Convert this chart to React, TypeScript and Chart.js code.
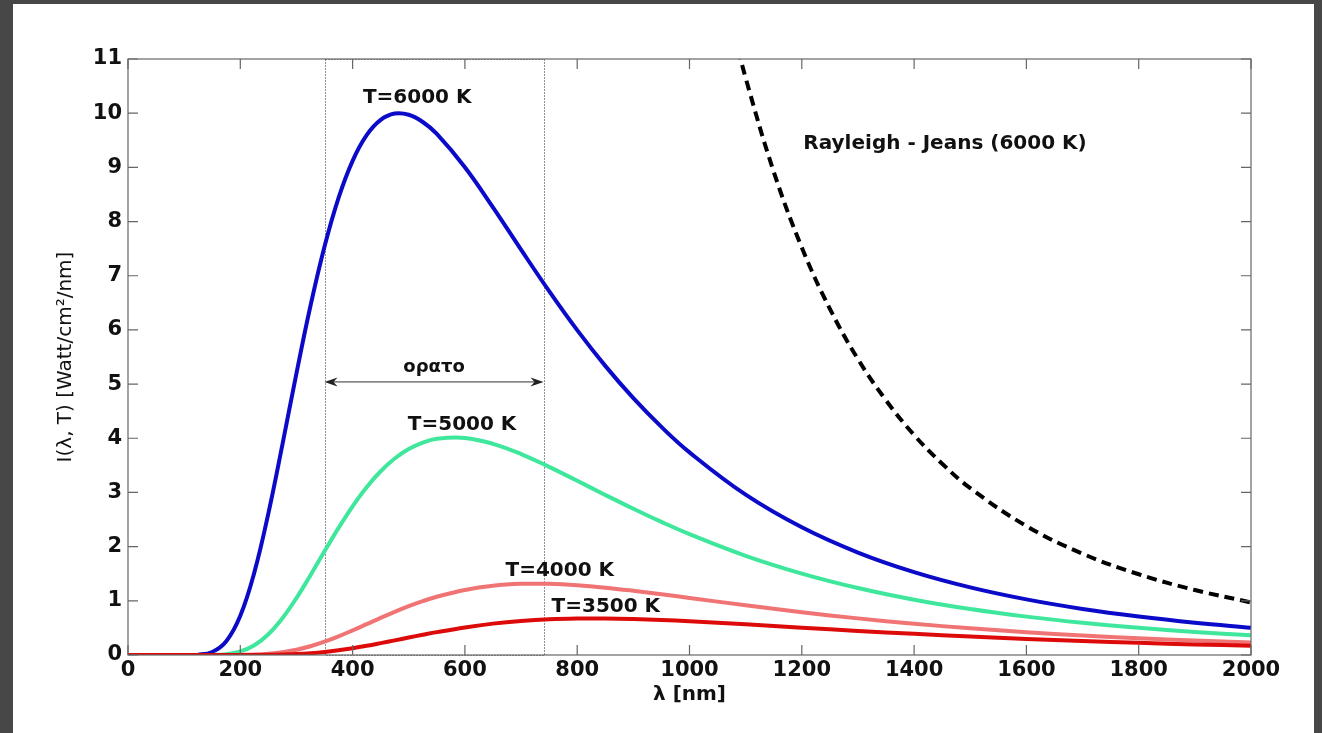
import { useEffect, useRef } from "react";
import { Chart, registerables } from "chart.js";

Chart.register(...registerables);

// wavelengths in nm (shared by the four Planck curves)
const wavelengths = [
  0, 50, 100, 125, 150, 175, 200, 225, 250, 275, 300, 325, 350, 375, 400, 425,
  450, 475, 500, 525, 550, 600, 650, 700, 750, 800, 850, 900, 950, 1000, 1100,
  1200, 1300, 1400, 1500, 1600, 1700, 1800, 1900, 2000,
];

const t6000 = [
  0, 0, 0.0001, 0.006, 0.056, 0.255, 0.725, 1.525, 2.615, 3.883, 5.199, 6.446,
  7.541, 8.438, 9.121, 9.594, 9.876, 9.993, 9.971, 9.837, 9.618, 9.003, 8.262,
  7.481, 6.716, 5.996, 5.336, 4.74, 4.21, 3.74, 2.959, 2.357, 1.891, 1.53,
  1.248, 1.026, 0.85, 0.71, 0.596, 0.504,
];

const t5000 = [
  0, 0, 0, 0, 0.002, 0.016, 0.066, 0.181, 0.384, 0.679, 1.051, 1.473, 1.914,
  2.346, 2.745, 3.097, 3.391, 3.626, 3.801, 3.921, 3.992, 4.007, 3.898, 3.709,
  3.473, 3.216, 2.954, 2.699, 2.456, 2.23, 1.831, 1.503, 1.236, 1.021, 0.848,
  0.708, 0.594, 0.502, 0.426, 0.363,
];

const t4000 = [
  0, 0, 0, 0, 0, 0, 0.002, 0.007, 0.022, 0.05, 0.096, 0.161, 0.245, 0.344,
  0.454, 0.569, 0.685, 0.796, 0.9, 0.993, 1.075, 1.201, 1.279, 1.313, 1.313,
  1.287, 1.243, 1.186, 1.122, 1.054, 0.917, 0.79, 0.676, 0.577, 0.493, 0.421,
  0.361, 0.31, 0.268, 0.232,
];

const t3500 = [
  0, 0, 0, 0, 0, 0, 0, 0.001, 0.003, 0.008, 0.017, 0.033, 0.056, 0.088, 0.126,
  0.17, 0.219, 0.27, 0.322, 0.373, 0.422, 0.509, 0.579, 0.628, 0.659, 0.673,
  0.674, 0.664, 0.647, 0.623, 0.567, 0.505, 0.445, 0.39, 0.34, 0.296, 0.258,
  0.225, 0.196, 0.172,
];

// Rayleigh - Jeans for 6000 K
const rjWavelengths = [
  1080, 1100, 1150, 1200, 1250, 1300, 1350, 1400, 1450, 1500, 1600, 1700, 1800,
  1900, 2000,
];
const rj6000 = [
  11.46, 10.65, 8.92, 7.52, 6.39, 5.46, 4.7, 4.06, 3.53, 3.08, 2.38, 1.87, 1.49,
  1.2, 0.97,
];

// visible band [nm] and the arrow level
const visibleBand = [350, 740];
const visibleArrowY = 5.04;

const curveLabels = [
  { text: "T=6000 K", x: 515, y: 10.29 },
  { text: "T=5000 K", x: 595, y: 4.25 },
  { text: "T=4000 K", x: 769, y: 1.55 },
  { text: "T=3500 K", x: 851, y: 0.89 },
  { text: "Rayleigh - Jeans (6000 K)", x: 1455, y: 9.44 },
];

const toPoints = (xs: number[], ys: number[]) =>
  xs.map((x, i) => ({ x, y: ys[i] }));

const decorPlugin = {
  id: "planckDecor",
  beforeDatasetsDraw(chart: any) {
    const { ctx, chartArea, scales } = chart;
    const x1 = scales.x.getPixelForValue(visibleBand[0]);
    const x2 = scales.x.getPixelForValue(visibleBand[1]);
    ctx.save();
    ctx.strokeStyle = "#222";
    ctx.lineWidth = 1;
    ctx.setLineDash([1, 2]);
    ctx.strokeRect(
      Math.round(x1) + 0.5,
      chartArea.top + 0.5,
      Math.round(x2 - x1),
      chartArea.bottom - chartArea.top
    );
    ctx.restore();
  },
  afterDatasetsDraw(chart: any) {
    const { ctx, chartArea, scales } = chart;
    const { left, right, top, bottom } = chartArea;
    const xs = scales.x;
    const ys = scales.y;

    ctx.save();
    // axes box and inward ticks
    ctx.strokeStyle = "#666";
    ctx.lineWidth = 1.2;
    ctx.strokeRect(left, top, right - left, bottom - top);
    ctx.beginPath();
    xs.ticks.forEach((t: any) => {
      const px = xs.getPixelForValue(t.value);
      ctx.moveTo(px, bottom);
      ctx.lineTo(px, bottom - 10);
      ctx.moveTo(px, top);
      ctx.lineTo(px, top + 10);
    });
    ys.ticks.forEach((t: any) => {
      const py = ys.getPixelForValue(t.value);
      ctx.moveTo(left, py);
      ctx.lineTo(left + 10, py);
      ctx.moveTo(right, py);
      ctx.lineTo(right - 10, py);
    });
    ctx.stroke();

    // double arrow across the visible band
    const ax1 = xs.getPixelForValue(visibleBand[0]);
    const ax2 = xs.getPixelForValue(visibleBand[1]);
    const ay = ys.getPixelForValue(visibleArrowY);
    ctx.strokeStyle = "#333";
    ctx.fillStyle = "#222";
    ctx.lineWidth = 1;
    ctx.beginPath();
    ctx.moveTo(ax1 + 4, ay);
    ctx.lineTo(ax2 - 4, ay);
    ctx.stroke();
    ctx.beginPath();
    ctx.moveTo(ax1, ay);
    ctx.lineTo(ax1 + 13, ay - 4.5);
    ctx.lineTo(ax1 + 9, ay);
    ctx.lineTo(ax1 + 13, ay + 4.5);
    ctx.closePath();
    ctx.moveTo(ax2, ay);
    ctx.lineTo(ax2 - 13, ay - 4.5);
    ctx.lineTo(ax2 - 9, ay);
    ctx.lineTo(ax2 - 13, ay + 4.5);
    ctx.closePath();
    ctx.fill();

    // text labels
    ctx.fillStyle = "#111";
    ctx.textAlign = "center";
    ctx.textBaseline = "middle";
    ctx.font = "bold 20px 'DejaVu Sans'";
    curveLabels.forEach((l) => {
      ctx.fillText(l.text, xs.getPixelForValue(l.x), ys.getPixelForValue(l.y));
    });
    ctx.font = "bold 18px 'DejaVu Sans'";
    ctx.fillText("ορατο", (ax1 + ax2) / 2, ay - 15);
    ctx.restore();
  },
};

export default function App() {
  const canvasRef = useRef<HTMLCanvasElement>(null);

  useEffect(() => {
    if (!canvasRef.current) return;
    document.body.style.margin = "0";

    const line = (data: any[], color: string, extra: any = {}) => ({
      data,
      borderColor: color,
      backgroundColor: color,
      borderWidth: 4,
      pointRadius: 0,
      tension: 0.4,
      fill: false,
      ...extra,
    });

    const chart = new Chart(canvasRef.current, {
      type: "line",
      data: {
        datasets: [
          line(toPoints(wavelengths, t3500), "#dd0a0a"),
          line(toPoints(wavelengths, t4000), "#f07474"),
          line(toPoints(wavelengths, t5000), "#3fe79c"),
          line(toPoints(wavelengths, t6000), "#0a0ac8"),
          line(toPoints(rjWavelengths, rj6000), "#000000", {
            borderDash: [10, 6],
          }),
        ] as any,
      },
      options: {
        animation: false,
        responsive: true,
        maintainAspectRatio: false,
        parsing: false,
        layout: { padding: { left: 0, top: 59, right: 71, bottom: 0 } },
        plugins: {
          legend: { display: false },
          tooltip: { enabled: false },
        },
        scales: {
          x: {
            type: "linear",
            min: 0,
            max: 2000,
            grid: { display: false, drawTicks: false },
            border: { display: false },
            ticks: {
              stepSize: 200,
              padding: 3,
              color: "#111",
              font: { family: "'DejaVu Sans'", size: 21, weight: "bold" },
              callback: (v: any) => String(v),
            },
            title: {
              display: true,
              text: "λ [nm]",
              color: "#111",
              font: { family: "'DejaVu Sans'", size: 20, weight: "bold" },
              padding: { top: 0, bottom: 26 },
            },
            afterFit: (s: any) => {
              s.height = 78;
            },
          },
          y: {
            type: "linear",
            min: 0,
            max: 11,
            grid: { display: false, drawTicks: false },
            border: { display: false },
            ticks: {
              stepSize: 1,
              padding: 6,
              color: "#111",
              font: { family: "'DejaVu Sans'", size: 21, weight: "bold" },
              callback: (v: any) => String(v),
            },
            title: {
              display: true,
              text: "I(λ, T) [Watt/cm²/nm]",
              color: "#111",
              font: { family: "'DejaVu Sans'", size: 20 },
              padding: { top: 54, bottom: 0 },
            },
            afterFit: (s: any) => {
              s.width = 128;
            },
          },
        },
      } as any,
      plugins: [decorPlugin],
    });

    return () => chart.destroy();
  }, []);

  return (
    <div
      style={{
        position: "absolute",
        left: 0,
        top: 0,
        width: 1322,
        height: 733,
        background: "#474747",
        overflow: "hidden",
      }}
    >
      <div
        style={{
          position: "absolute",
          left: 13,
          top: 4,
          width: 1301,
          height: 729,
          background: "#ffffff",
        }}
      />
      <div style={{ position: "absolute", left: 0, top: 0, width: 1322, height: 733 }}>
        <canvas ref={canvasRef} />
      </div>
    </div>
  );
}
